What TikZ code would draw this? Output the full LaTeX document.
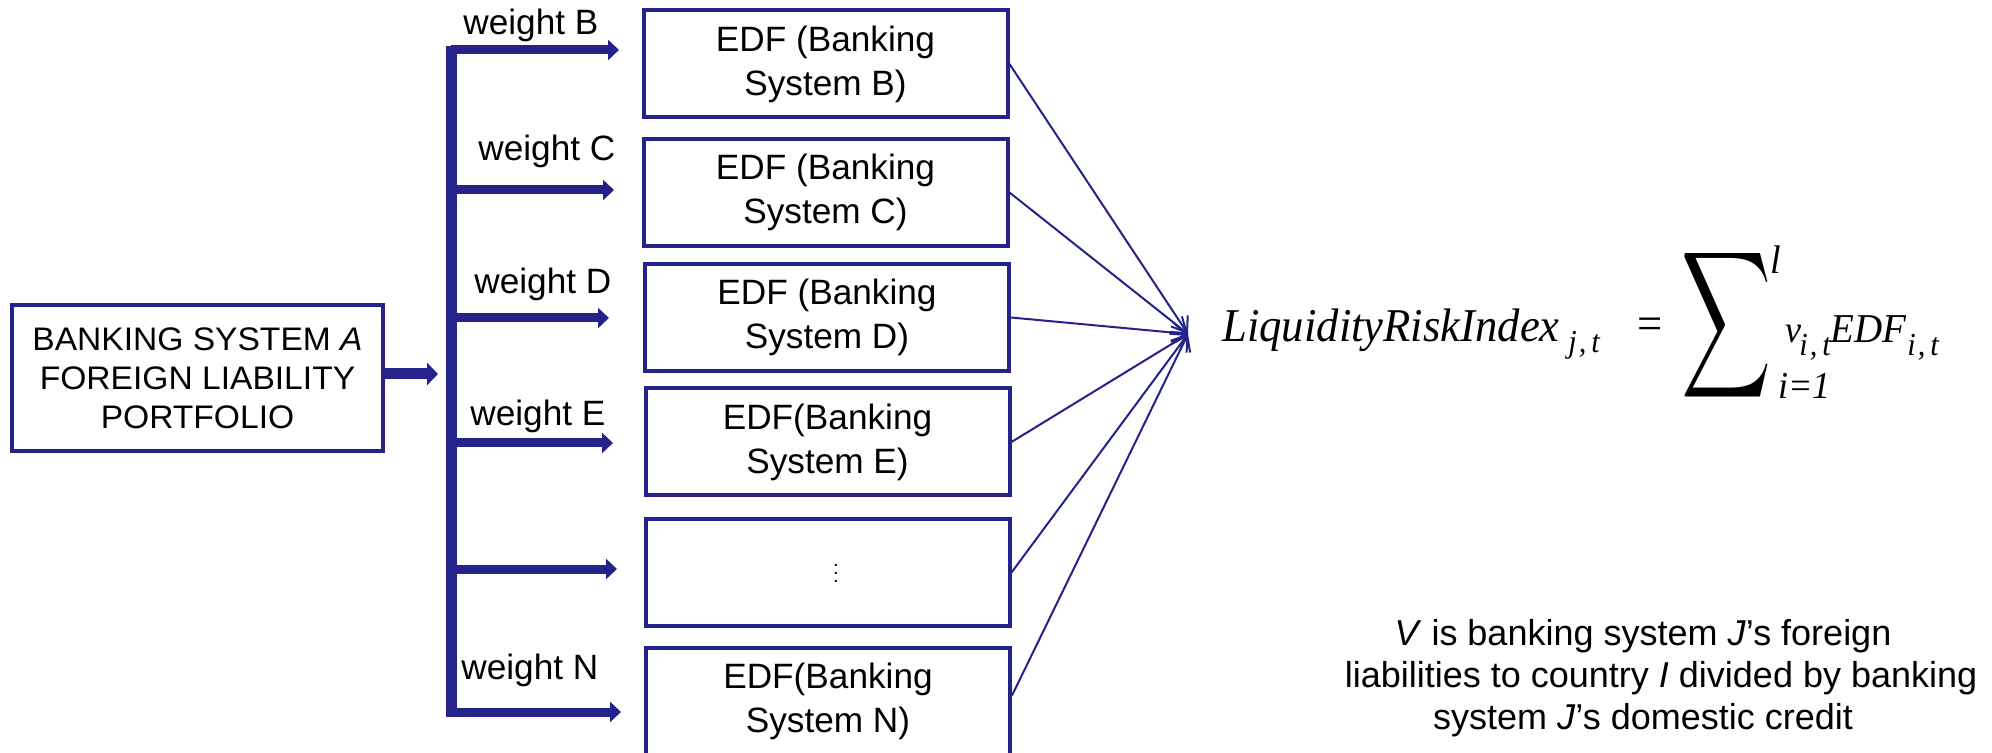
\documentclass[tikz,border=0pt]{standalone}
\usepackage{fontspec}
\usepackage{graphicx}
\setmainfont{Liberation Sans}
\newfontfamily\boxsans[FakeStretch=1.03]{Liberation Sans}
\newfontfamily\fmlserif[FakeStretch=0.95]{Liberation Serif}
\usetikzlibrary{arrows.meta}
\definecolor{navy}{RGB}{35,35,139}

\begin{document}
\begin{tikzpicture}[x=0.5pt,y=-0.5pt,
  srcbox/.style={draw=navy, line width=2pt, minimum width=185.5pt, minimum height=73pt,
    inner sep=0pt, align=center, font=\boxsans\fontsize{16.3}{19.5}\selectfont},
  edfbox/.style={draw=navy, line width=2pt, minimum width=182pt, minimum height=53.5pt,
    inner sep=0pt, align=center, font=\fontsize{17.6}{22}\selectfont},
  busline/.style={draw=navy, line width=5.5pt},
  feed/.style={draw=navy, line width=4.5pt, -{Triangle[length=5.5pt,width=10pt]}},
  feedin/.style={draw=navy, line width=5.5pt, -{Triangle[length=5.5pt,width=11pt]}},
  link/.style={draw=navy, line width=1pt, -{Straight Barb[length=7pt,width=10pt]}},
  wlabel/.style={anchor=base west, inner sep=0pt, font=\fontsize{17.6}{20}\selectfont},
  fml/.style={anchor=base west, inner sep=0pt},
  note/.style={align=center, inner sep=0pt, font=\fontsize{18}{21}\selectfont}
]
\path[use as bounding box] (0,0) rectangle (1992,753);
\clip (0,0) rectangle (1992,753);
\fill[white] (0,0) rectangle (1992,753);

% source portfolio
\node[srcbox] (A) at (197.5,378) {BANKING SYSTEM \textit{A}\\FOREIGN LIABILITY\\PORTFOLIO};

% EDF boxes
\node[edfbox] (B) at (825.5,64) {EDF (Banking\\System B)};
\node[edfbox] (C) at (825.5,192.5) {EDF (Banking\\System C)};
\node[edfbox] (D) at (827,317.5) {EDF (Banking\\System D)};
\node[edfbox] (E) at (827.5,442) {EDF(Banking\\System E)};
\node[edfbox] (M) at (827.5,572.5) {};
\node[inner sep=0pt] (dots) at (836,567) {$\vdots$};
\node[edfbox] (N) at (828,701.5) {EDF(Banking\\System N)};

% distribution bus
\coordinate (busin) at (438,374);
\coordinate (bustop) at (451,46);
\coordinate (busbot) at (451,712);
\draw[feedin] ([yshift=2pt]A.east) -- (busin);
\draw[busline] (bustop) -- (busbot);

\coordinate (jB) at (451,50);  \coordinate (tB) at (619,50);
\coordinate (jC) at (451,190); \coordinate (tC) at (614,190);
\coordinate (jD) at (451,318); \coordinate (tD) at (609,318);
\coordinate (jE) at (451,443); \coordinate (tE) at (613,443);
\coordinate (jM) at (451,569); \coordinate (tM) at (617,569);
\coordinate (jN) at (446,712); \coordinate (tN) at (621,712);
\draw[feed] (jB) -- (tB);
\draw[feed] (jC) -- (tC);
\draw[feed] (jD) -- (tD);
\draw[feed] (jE) -- (tE);
\draw[feed] (jM) -- (tM);
\draw[feed] (jN) -- (tN);

% weights
\node[wlabel] (wB) at (463,35) {weight B};
\node[wlabel] (wC) at (478,161) {weight C};
\node[wlabel] (wD) at (474,294) {weight D};
\node[wlabel] (wE) at (470,426) {weight E};
\node[wlabel] (wN) at (461,679) {weight N};

% links into the index
\coordinate (conv) at (1188,334);
\draw[link] (B.east) -- (conv);
\draw[link] (C.east) -- (conv);
\draw[link] (D.east) -- (conv);
\draw[link] (E.east) -- (conv);
\draw[link] (M.east) -- (conv);
\draw[link] ([yshift=3pt]N.east) -- (conv);

% index formula
\begin{scope}[every node/.append style={font=\fmlserif\itshape}]
\node[fml] (lhs) at (1222,342) {\fontsize{23.5}{28}\selectfont LiquidityRiskIndex};
\node[fml] (lhssub) at (1568,353) {\fontsize{16}{19}\selectfont j\kern1pt,\kern2.5pt t};
\node[inner sep=0pt, font=\fmlserif\fontsize{23.5}{28}\selectfont] (eq) at (1650,329) {=};
\node[inner sep=0pt] (sum) at (1726,325) {\resizebox*{45pt}{82pt}{$\displaystyle\sum$}};
\node[fml] (upper) at (1770,274) {\fontsize{20}{24}\selectfont l};
\node[fml] (lower) at (1778,399) {\fontsize{19}{22}\selectfont i=1};
\node[fml] (v) at (1785,343) {\fontsize{19}{23}\selectfont v};
\node[fml] (vsub) at (1799,356) {\fontsize{16}{19}\selectfont i\kern1pt,\kern2.5pt t};
\node[fml] (edf) at (1830,343) {\fontsize{20.5}{24}\selectfont EDF};
\node[fml] (edfsub) at (1907,356) {\fontsize{16}{19}\selectfont i\kern1pt,\kern2.5pt t};
\end{scope}

% definition of the weights
\node[note] (def) at (1661,678) {\textit{V} is banking system \textit{J}’s foreign\rule{18pt}{0pt}\\liabilities to country \textit{I} divided by banking\\system \textit{J}’s domestic credit\rule{18pt}{0pt}};
\end{tikzpicture}
\end{document}
